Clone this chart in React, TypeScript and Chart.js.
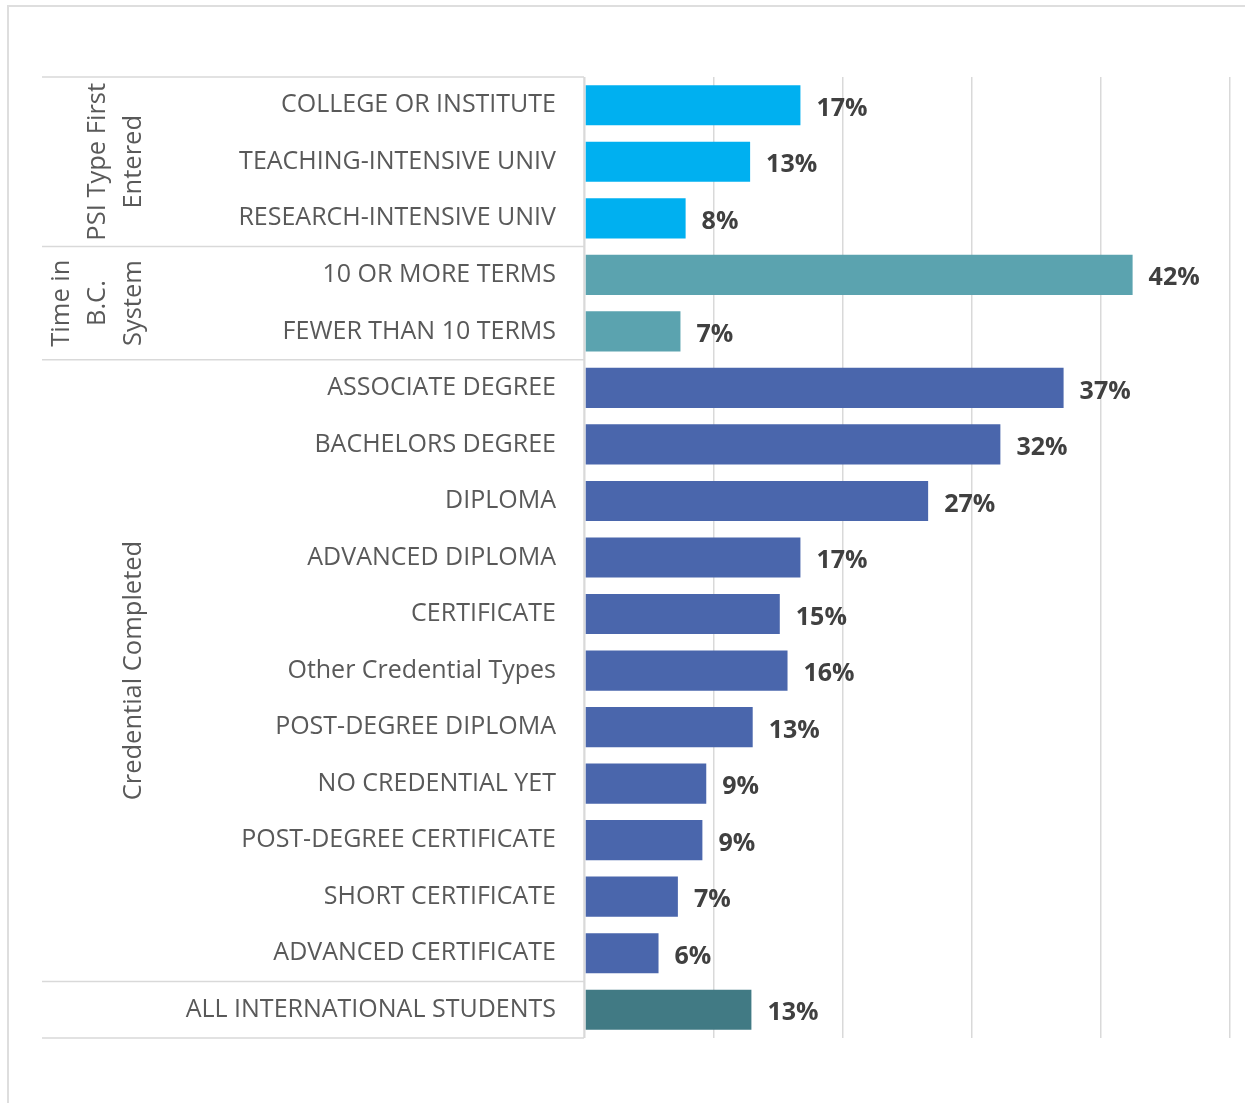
import React, { useEffect, useRef } from "react";
import { Chart, registerables } from "chart.js";

Chart.register(...registerables);

const categories = [
  "COLLEGE OR INSTITUTE",
  "TEACHING-INTENSIVE UNIV",
  "RESEARCH-INTENSIVE UNIV",
  "10 OR MORE TERMS",
  "FEWER THAN 10 TERMS",
  "ASSOCIATE DEGREE",
  "BACHELORS DEGREE",
  "DIPLOMA",
  "ADVANCED DIPLOMA",
  "CERTIFICATE",
  "Other Credential Types",
  "POST-DEGREE DIPLOMA",
  "NO CREDENTIAL YET",
  "POST-DEGREE CERTIFICATE",
  "SHORT CERTIFICATE",
  "ADVANCED CERTIFICATE",
  "ALL INTERNATIONAL STUDENTS",
];

const values = [16.7, 12.8, 7.8, 42.45, 7.4, 37.1, 32.2, 26.6, 16.7, 15.1, 15.7, 13.0, 9.4, 9.1, 7.2, 5.7, 12.9];

const groupNames = [["PSI Type First", "Entered"], ["Time in", "B.C.", "System"], ["Credential Completed"], []];
const groupSizes = [3, 2, 11, 1];
const groupColors = ["#00B0F0", "#5BA3AF", "#4A66AC", "#417A84"];

const xTicks = [0, 10, 20, 30, 40, 50];

const LINE = "#d9d9d9";
const TEXT = "#595959";
const FONT = "'Open Sans'";

const barColors: string[] = [];
groupSizes.forEach((n, g) => {
  for (let i = 0; i < n; i++) barColors.push(groupColors[g]);
});

const tablePlugin = {
  id: "tablePlugin",
  afterDraw(chart: any) {
    const ctx = chart.ctx;
    const area = chart.chartArea;
    const rowH = (area.bottom - area.top) / categories.length;
    const tableLeft = 42;
    ctx.save();
    ctx.strokeStyle = LINE;
    ctx.lineWidth = 1.5;
    let idx = 0;
    const bounds = [0];
    groupSizes.forEach((n) => {
      idx += n;
      bounds.push(idx);
    });
    bounds.forEach((b) => {
      const yy = area.top + b * rowH;
      ctx.beginPath();
      ctx.moveTo(tableLeft, yy);
      ctx.lineTo(area.left - 1, yy);
      ctx.stroke();
    });
    ctx.beginPath();
    ctx.moveTo(area.left - 1, area.top);
    ctx.lineTo(area.left - 1, area.bottom);
    ctx.stroke();

    ctx.fillStyle = TEXT;
    ctx.font = `25.5px ${FONT}`;
    ctx.textAlign = "center";
    ctx.textBaseline = "middle";
    let start = 0;
    groupSizes.forEach((n, g) => {
      const lines = groupNames[g];
      const cy = area.top + (start + n / 2) * rowH;
      lines.forEach((ln, i) => {
        const cx = 134 - (lines.length - 1 - i) * 36;
        ctx.save();
        ctx.translate(cx, cy);
        ctx.rotate(-Math.PI / 2);
        ctx.fillText(ln, 0, 0);
        ctx.restore();
      });
      start += n;
    });

    const meta = chart.getDatasetMeta(0);
    ctx.fillStyle = "#404040";
    ctx.font = `bold 25px ${FONT}`;
    ctx.textAlign = "left";
    meta.data.forEach((bar: any, i: number) => {
      ctx.fillText(Math.round(values[i]) + "%", bar.x + 16, bar.y + 3.5);
    });
    ctx.restore();
  },
};

export default function App() {
  const ref = useRef<HTMLCanvasElement>(null);
  useEffect(() => {
    if (!ref.current) return;
    const chart = new Chart(ref.current, {
      type: "bar",
      data: {
        labels: categories,
        datasets: [
          {
            data: values,
            backgroundColor: barColors,
            barPercentage: 0.71,
            categoryPercentage: 1,
          },
        ],
      },
      options: {
        indexAxis: "y",
        animation: false,
        responsive: false,
        layout: { padding: { top: 77, bottom: 65, left: 0, right: 15 } },
        plugins: { legend: { display: false }, tooltip: { enabled: false } },
        scales: {
          x: {
            min: 0,
            max: 50,
            afterBuildTicks: (s: any) => {
              s.ticks = xTicks.map((v) => ({ value: v }));
            },
            ticks: { display: false },
            grid: { color: LINE, lineWidth: 1.5, drawTicks: false },
            border: { display: false },
            afterFit: (s: any) => {
              s.height = 0;
            },
          },
          y: {
            ticks: {
              color: TEXT,
              font: { family: FONT, size: 25 },
              padding: 29,
              autoSkip: false,
            },
            grid: { display: false, drawTicks: false },
            border: { display: false },
            afterFit: (s: any) => {
              s.width = 585;
            },
          },
        },
      },
      plugins: [tablePlugin],
    });
    return () => chart.destroy();
  }, []);
  return (
    <div style={{ position: "absolute", left: 0, top: 0, width: 1245, height: 1103, overflow: "hidden", background: "#fff" }}>
      <div
        style={{
          position: "absolute",
          left: 7,
          top: 5,
          width: 1300,
          height: 1200,
          border: "2px solid #dedede",
          boxSizing: "border-box",
        }}
      />
      <canvas ref={ref} width={1245} height={1103} style={{ position: "absolute", left: 0, top: 0 }} />
    </div>
  );
}
